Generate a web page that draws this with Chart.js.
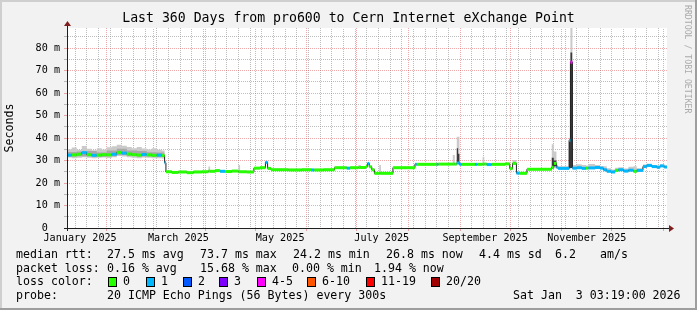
<!DOCTYPE html>
<html>
<head>
<meta charset="utf-8">
<title>pro600 to Cern Internet eXchange Point</title>
<script src="https://cdn.jsdelivr.net/npm/chart.js@4.4.1/dist/chart.umd.min.js"></script>
<style>
  html, body { margin: 0; padding: 0; background: #f2f2f2; }
  canvas { display: block; }
</style>
</head>
<body>
<canvas id="smoke" width="697" height="310"></canvas>
<script>
// x is in days since 1 Jan 2025 00:00, graph covers 360 days ending 3 Jan 2026 03:19
const startDay = 7.14, endDay = 367.14;

// median rtt (ms), lost pings out of 20, and the smoke spread, each value held until the next day entry
const days = [7.14, 10, 13, 16, 19, 22, 25, 28, 31, 34, 37, 40, 43, 46, 49, 52, 55, 58, 61, 64, 65.7,
  66.5, 70, 74, 79, 83, 88, 92, 93, 96, 99, 102, 106, 110, 111, 115,
  119.3, 123, 126.2, 127.5, 129.5, 140, 148, 154, 155.5, 161, 167.7, 175, 177, 182, 183.5, 186.5, 187.5, 188.5, 190, 191.6, 194.5, 195.5,
  202.7, 215.9, 217, 229, 230, 238.6, 239.8, 241.0, 242.6, 244, 252, 253.5, 256.5, 257.5, 259, 262, 270, 272.8, 274.5, 276.8, 278.5, 283.1,
  298.0, 299.2, 300.8, 301.8, 308.4, 309.2, 310.4, 313, 316, 318.5, 320, 324, 327, 329, 331, 333.5, 336, 338, 341, 344, 347, 349,
  352.7, 355, 358, 361, 363, 365.5, 367.14];
const medianMs = [32.4, 32.5, 32.8, 33.5, 32.6, 32.3, 32.4, 32.6, 32.5, 32.8, 33.6, 33.3, 32.9, 32.6, 32.4, 32.7, 32.5, 32.3, 32.4, 32.2, 29.0,
  25.0, 24.7, 24.9, 24.6, 24.9, 25.0, 25.3, 25.2, 25.5, 25.2, 25.1, 25.3, 25.0, 25.0, 24.9,
  26.6, 26.8, 29.2, 26.5, 25.9, 25.8, 25.9, 25.8, 25.8, 25.9, 26.8, 26.6, 26.8, 26.9, 26.9, 27.4, 28.7, 27.2, 25.9, 24.3, 24.3, 24.3,
  26.8, 28.3, 28.3, 28.3, 28.4, 28.4, 28.4, 28.9, 28.3, 28.3, 28.3, 28.3, 28.4, 28.4, 28.2, 28.3, 28.5, 26.4, 28.7, 24.4, 24.3, 26.1,
  27.0, 28.7, 27.0, 26.5, 39.0, 73.7, 26.6, 26.8, 26.5, 26.6, 26.7, 26.9, 26.6, 25.9, 25.2, 24.9, 25.6, 25.9, 25.3, 25.7, 25.2, 25.6,
  27.3, 27.8, 27.3, 27.0, 27.6, 27.1, 26.8];
const lostPings = [1, 0, 0, 1, 0, 1, 0, 0, 0, 1, 0, 1, 0, 0, 0, 1, 0, 0, 1, 0, 1,
  0, 0, 0, 0, 0, 0, 0, 0, 0, 1, 0, 0, 0, 0, 0,
  0, 0, 1, 0, 0, 0, 0, 1, 0, 0, 0, 1, 0, 0, 0, 0, 1, 0, 0, 0, 0, 0,
  0, 1, 0, 1, 0, 0, 0, 1, 1, 0, 1, 0, 0, 0, 1, 0, 0, 0, 0, 1, 0, 0,
  0, 0, 1, 1, 1, 5, 1, 1, 1, 0, 1, 1, 1, 1, 1, 1, 0, 1, 1, 1, 0, 1,
  1, 1, 1, 1, 1, 1, 1];
const smokeLow = [31.3, 31.0, 31.2, 31.5, 31.2, 31.0, 31.2, 31.3, 31.1, 31.4, 32.0, 31.8, 31.5, 31.2, 31.0, 31.3, 31.2, 31.0, 31.0, 30.9, 28.2,
  24.6, 24.3, 24.5, 24.2, 24.5, 24.6, 24.9, 24.8, 25.1, 24.8, 24.7, 24.9, 24.6, 24.6, 24.5,
  26.2, 26.4, 28.6, 26.1, 25.5, 25.4, 25.5, 25.4, 25.4, 25.5, 26.4, 26.2, 26.4, 26.5, 26.5, 27.0, 28.1, 26.8, 25.5, 23.9, 23.9, 23.9,
  26.4, 27.9, 27.9, 27.9, 28.0, 28.0, 28.0, 28.3, 27.9, 27.9, 27.9, 27.9, 28.0, 28.0, 27.8, 27.9, 28.1, 26.0, 28.1, 24.0, 23.9, 25.7,
  26.3, 26.6, 26.4, 26.1, 26.5, 26.6, 26.2, 26.4, 26.1, 26.2, 26.3, 26.5, 26.2, 25.5, 24.8, 24.5, 25.2, 25.5, 24.9, 25.3, 24.8, 25.2,
  26.9, 27.4, 26.9, 26.6, 27.2, 26.7, 26.4];
const smokeHigh = [35.0, 35.8, 34.8, 36.4, 35.2, 34.6, 35.4, 34.9, 35.9, 36.3, 37.0, 36.6, 36.0, 35.4, 36.0, 35.3, 34.9, 35.4, 34.8, 34.5, 30.0,
  25.5, 25.2, 25.4, 25.1, 25.4, 25.5, 27.3, 25.7, 26.0, 25.7, 25.6, 25.8, 28.0, 25.5, 25.4,
  27.1, 27.3, 29.8, 27.0, 26.4, 26.3, 26.4, 26.3, 26.3, 26.4, 27.3, 27.1, 27.3, 28.0, 27.4, 27.9, 29.3, 27.7, 26.4, 24.8, 28.0, 24.8,
  27.3, 28.8, 28.8, 28.8, 28.9, 32.4, 28.9, 40.6, 28.8, 28.8, 28.8, 28.8, 31.7, 28.9, 28.7, 28.8, 29.0, 27.0, 30.2, 24.9, 24.8, 26.6,
  37.2, 34.0, 28.0, 27.4, 40.0, 88.9, 28.0, 28.3, 28.0, 27.8, 28.4, 28.0, 27.6, 27.4, 26.6, 26.0, 26.8, 27.0, 26.5, 27.2, 27.5, 26.6,
  28.2, 28.6, 28.0, 27.8, 28.2, 27.8, 27.5];

// middle part of the smoke in Jan-Mar, where most pings sit
const midDays = [7.14, 13, 19, 25, 31, 37, 43, 49, 55, 61, 65.7];
const midLow = [31.8, 31.9, 31.8, 31.7, 31.9, 32.4, 32.0, 31.8, 31.8, 31.6, 0];
const midHigh = [33.8, 34.0, 34.2, 33.6, 34.5, 35.2, 34.4, 34.2, 33.7, 33.6, 0];

// dense (dark) smoke, only where the pings were widely spread
const denseDays = [7.14, 241.0, 241.8, 242.6, 298.0, 299.2, 300.8, 308.4, 309.2, 310.4];
const denseLow = [0, 28.5, 28.5, 0, 26.5, 27.5, 0, 26.6, 26.7, 0];
const denseHigh = [0, 35.5, 33.0, 0, 31.2, 30.0, 0, 39.5, 78.0, 0];

const monthStarts = [31, 59, 90, 120, 151, 181, 212, 243, 273, 304, 334, 365];
const monthLabelDays = [15, 74, 135, 196, 258, 319];
const monthLabels = ['January 2025', 'March 2025', 'May 2025', 'July 2025', 'September 2025', 'November 2025'];
const yMajor = [0, 10, 20, 30, 40, 50, 60, 70, 80];
const yMinor = [5, 15, 25, 35, 45, 55, 65, 75, 85];

const lossSteps = [0, 1, 2, 3, 5, 10, 19, 20];
const lossNames = ['0', '1', '2', '3', '4-5', '6-10', '11-19', '20/20'];
const lossColors = ['#26ff00', '#00b8ff', '#0059ff', '#7e00ff', '#ff00ff', '#ff5500', '#ff0000', '#a00000'];

const MONO = '"DejaVu Sans Mono", monospace';
const MGRID_SOLID = 'rgba(222,79,79,0.48)', GRID_SOLID = 'rgba(143,143,143,0.6)';

// rrdtool grid is drawn 1 px on / 1 px off: a 2x2 checker pattern gives that on every 1 px line
function dotted(color) {
  const c = document.createElement('canvas');
  c.width = c.height = 2;
  const g = c.getContext('2d');
  g.fillStyle = color;
  g.fillRect(0, 0, 1, 1);
  g.fillRect(1, 1, 1, 1);
  return g.createPattern(c, 'repeat');
}
const MGRID = dotted(MGRID_SOLID), GRID = dotted(GRID_SOLID);

const xy = (xs, ys) => xs.map((x, i) => ({x: x, y: ys[i]}));
const colorFor = n => lossColors[lossSteps.findIndex(s => n <= s)];

// each median step becomes its own horizontal piece so it can carry its loss colour
const medianRuns = [];
for (let i = 0; i < days.length - 1; i++) {
  medianRuns.push({x: days[i], y: medianMs[i]}, {x: days[i + 1], y: medianMs[i]}, {x: days[i + 1], y: null});
}

// weekly lines on mondays (13 Jan 2025 is day 12)
const weekDays = [];
for (let d = 12; d < endDay; d += 7) weekDays.push(d);
const xTicks = [].concat(
  weekDays.filter(d => !monthStarts.includes(d)).map(d => ({value: d, kind: 'week'})),
  monthStarts.map(d => ({value: d, kind: 'month'})),
  monthLabelDays.map((d, i) => ({value: d, kind: 'label', text: monthLabels[i]}))
).sort((a, b) => a.value - b.value);
const yTicks = yMajor.concat(yMinor).sort((a, b) => a - b).map(v => ({value: v}));

const rrdLook = {
  id: 'rrdLook',
  beforeDraw(chart) {
    const {ctx, width, height, chartArea: a} = chart;
    ctx.save();
    ctx.fillStyle = '#f2f2f2';
    ctx.fillRect(0, 0, width, height);
    ctx.fillStyle = '#cfcfcf';
    ctx.fillRect(0, 0, width, 2);
    ctx.fillRect(0, 0, 2, height);
    ctx.fillStyle = '#9e9e9e';
    ctx.fillRect(0, height - 2, width, 2);
    ctx.fillRect(width - 2, 0, 2, height);
    ctx.fillStyle = '#ffffff';
    ctx.fillRect(a.left, a.top, a.right - a.left, a.bottom - a.top);
    ctx.restore();
  },
  afterDraw(chart) {
    const {ctx, chartArea: a} = chart;
    const ax = a.left + 0.5, ay = a.bottom + 0.5;
    ctx.save();
    // axes with arrow heads
    ctx.strokeStyle = '#1f1f1f';
    ctx.lineWidth = 1;
    ctx.beginPath();
    ctx.moveTo(a.left - 3, ay); ctx.lineTo(a.right + 4, ay);
    ctx.moveTo(ax, a.bottom + 3); ctx.lineTo(ax, a.top - 4);
    ctx.stroke();
    ctx.fillStyle = '#7f1f1f';
    ctx.beginPath();
    ctx.moveTo(a.right + 2, ay - 3.5); ctx.lineTo(a.right + 7, ay); ctx.lineTo(a.right + 2, ay + 3.5);
    ctx.closePath(); ctx.fill();
    ctx.beginPath();
    ctx.moveTo(ax - 3.5, a.top - 2); ctx.lineTo(ax, a.top - 7); ctx.lineTo(ax + 3.5, a.top - 2);
    ctx.closePath(); ctx.fill();

    // title
    ctx.fillStyle = '#000';
    ctx.textBaseline = 'middle';
    ctx.textAlign = 'center';
    ctx.font = '13.2px ' + MONO;
    ctx.fillText('Last 360 Days from pro600 to Cern Internet eXchange Point', 348.5, 19);

    // legend block
    ctx.textAlign = 'left';
    ctx.font = '11.6px ' + MONO;
    const rows = [
      [255, [['median rtt:', 16], ['27.5 ms avg', 107], ['73.7 ms max', 200], ['24.2 ms min', 293], ['26.8 ms now', 386], ['4.4 ms sd', 479], ['6.2', 555], ['am/s', 600]]],
      [268.5, [['packet loss:', 16], ['0.16 % avg', 107], ['15.68 % max', 200], ['0.00 % min', 292], ['1.94 % now', 374]]],
      [282, [['loss color:', 16]]],
      [296, [['probe:', 16], ['20 ICMP Echo Pings (56 Bytes) every 300s', 107], ['Sat Jan  3 03:19:00 2026', 513]]]
    ];
    rows.forEach(([y, items]) => items.forEach(([t, x]) => ctx.fillText(t, x, y)));
    const boxX = [108, 146, 183, 219, 257, 307, 366, 431];
    lossNames.forEach((name, i) => {
      ctx.fillStyle = lossColors[i];
      ctx.fillRect(boxX[i], 277, 8, 9);
      ctx.strokeStyle = '#000';
      ctx.strokeRect(boxX[i] + 0.5, 277.5, 8, 9);
      ctx.fillStyle = '#000';
      ctx.fillText(name, boxX[i] + 15, 282);
    });

    // watermark
    ctx.translate(687.5, 5);
    ctx.rotate(Math.PI / 2);
    ctx.font = '8.2px ' + MONO;
    ctx.fillStyle = '#aaaaaa';
    ctx.fillText('RRDTOOL / TOBI OETIKER', 0, 0);
    ctx.restore();
  }
};

const band = (xs, ys) => ({ data: xy(xs, ys), stepped: 'before', borderWidth: 0, borderColor: 'transparent', fill: false });

new Chart(document.getElementById('smoke'), {
  type: 'line',
  data: {
    datasets: [
      {
        data: medianRuns, borderWidth: 3, borderCapStyle: 'butt', spanGaps: false, fill: false,
        borderColor: lossColors[0],
        segment: { borderColor: c => colorFor(lostPings[Math.floor(c.p0DataIndex / 3)]) }
      },
      { data: xy(days, medianMs), stepped: 'before', borderWidth: 1, borderColor: '#202020', fill: false },
      Object.assign(band(denseDays, denseHigh), { fill: '+1', backgroundColor: '#3a3a3a' }),
      band(denseDays, denseLow),
      Object.assign(band(midDays, midHigh), { fill: '+1', backgroundColor: '#a8a8a8' }),
      band(midDays, midLow),
      Object.assign(band(days, smokeHigh), { fill: '+1', backgroundColor: '#cacaca' }),
      band(days, smokeLow)
    ]
  },
  options: {
    responsive: false,
    animation: false,
    devicePixelRatio: 1,
    layout: { padding: { left: 0, right: 30, top: 28, bottom: 65 } },
    elements: { point: { radius: 0 } },
    plugins: { legend: { display: false }, tooltip: { enabled: false }, title: { display: false } },
    scales: {
      x: {
        type: 'linear', min: startDay, max: endDay,
        afterBuildTicks: s => { s.ticks = xTicks; },
        afterFit: s => { s.height = 17; },
        grid: {
          color: c => !c.tick ? GRID : c.tick.kind === 'month' ? MGRID : c.tick.kind === 'week' ? GRID : 'transparent',
          tickColor: c => (c.tick && c.tick.kind === 'month') ? MGRID_SOLID : 'transparent',
          tickLength: 3
        },
        border: { color: '#1f1f1f' },
        ticks: {
          autoSkip: false, maxRotation: 0, minRotation: 0, padding: 1, color: '#000',
          font: { family: MONO, size: 10.15 },
          callback: (v, i, t) => t[i].text || ''
        }
      },
      y: {
        type: 'linear', min: 0, max: 88.9,
        afterBuildTicks: s => { s.ticks = yTicks; },
        afterFit: s => { s.width = 67; },
        grid: {
          color: c => (c.tick && yMajor.includes(c.tick.value)) ? MGRID : GRID,
          tickColor: c => (c.tick && yMajor.includes(c.tick.value)) ? MGRID_SOLID : GRID_SOLID,
          tickLength: 3
        },
        border: { color: '#1f1f1f' },
        ticks: {
          autoSkip: false, padding: 4, color: '#000',
          font: { family: MONO, size: 10.15 },
          callback: v => yMajor.includes(v) ? (v === 0 ? '0  ' : v + ' m') : ''
        },
        title: {
          display: true, text: 'Seconds', color: '#000',
          font: { family: MONO, size: 11.6 },
          padding: { top: 3, bottom: 0 }
        }
      }
    }
  },
  plugins: [rrdLook]
});
</script>
</body>
</html>
